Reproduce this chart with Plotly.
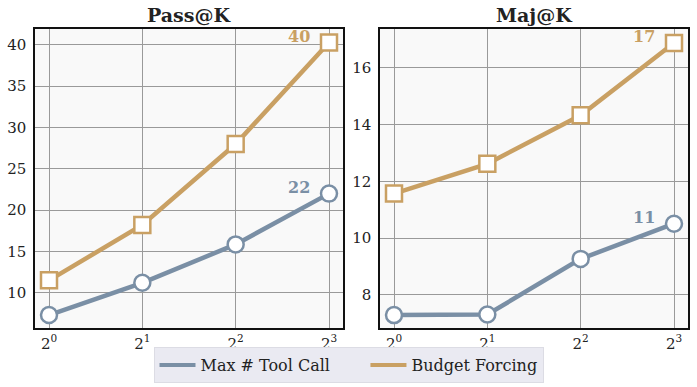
import plotly.graph_objects as go
from plotly.subplots import make_subplots

# ── data ──────────────────────────────────────────────────────────────
k_exp = [0, 1, 2, 3]
k_labels = ["2<sup>0</sup>", "2<sup>1</sup>", "2<sup>2</sup>", "2<sup>3</sup>"]

pass_tool = [7.3, 11.2, 15.85, 22.0]
pass_budget = [11.5, 18.2, 28.0, 40.3]
maj_tool = [7.29, 7.31, 9.27, 10.51]
maj_budget = [11.57, 12.62, 14.33, 16.88]

end_labels_pass = ["22", "40"]
end_labels_maj = ["11", "17"]

C_TOOL = "#7a8fa5"
C_BUDGET = "#c9a063"
FONT = "DejaVu Serif"

fig = make_subplots(rows=1, cols=2)


def add_series(y, color, symbol, size, col):
    fig.add_trace(go.Scatter(
        x=k_exp, y=y, mode="lines+markers",
        line=dict(color=color, width=4.5),
        marker=dict(symbol=symbol, size=size, color="white",
                    line=dict(color=color, width=2.5)),
        showlegend=False,
    ), row=1, col=col)


add_series(pass_tool, C_TOOL, "circle", 16, 1)
add_series(pass_budget, C_BUDGET, "square", 16, 1)
add_series(maj_tool, C_TOOL, "circle", 16, 2)
add_series(maj_budget, C_BUDGET, "square", 16, 2)

# legend-only entries (line without markers); trailing nbsp widens the gap
fig.add_trace(go.Scatter(x=[None], y=[None], mode="lines",
                         name="Max # Tool Call" + "\u00a0" * 6,
                         line=dict(color=C_TOOL, width=4)))
fig.add_trace(go.Scatter(x=[None], y=[None], mode="lines", name="Budget Forcing",
                         line=dict(color=C_BUDGET, width=4)))

# end-of-line value labels
for xr, yr, tool, budget, labels in [("x", "y", pass_tool, pass_budget, end_labels_pass),
                                     ("x2", "y2", maj_tool, maj_budget, end_labels_maj)]:
    for yv, txt, color in [(tool[-1], labels[0], C_TOOL), (budget[-1], labels[1], C_BUDGET)]:
        fig.add_annotation(x=k_exp[-1], y=yv, xref=xr, yref=yr, text=f"<b>{txt}</b>",
                           showarrow=False, xshift=-30, yshift=6,
                           font=dict(family=FONT, size=16, color=color))

# panel titles
for xc, title in [((35 + 343) / 2 / 697, "Pass@K"), ((380 + 688) / 2 / 697, "Maj@K")]:
    fig.add_annotation(x=xc, y=1 - 15 / 387, xref="paper", yref="paper",
                       xanchor="center", yanchor="middle",
                       text=f"<b>{title}</b>", showarrow=False,
                       font=dict(family=FONT, size=19, color="#222222"))

axis_common = dict(
    showline=True, mirror=True, linecolor="#111111", linewidth=1.5,
    showgrid=True, gridcolor="#9a9a9a", gridwidth=1, zeroline=False,
    ticks="outside", tickcolor="rgba(0,0,0,0)",
    tickfont=dict(family=FONT, size=15, color="#222222"),
)

fig.update_xaxes(**axis_common, ticklen=1, tickvals=k_exp, ticktext=k_labels,
                 range=[-0.15, 3.15])
fig.update_yaxes(**axis_common, ticklen=4)

fig.update_layout(
    width=697, height=387,
    margin=dict(l=0, r=0, t=0, b=0),
    paper_bgcolor="white",
    plot_bgcolor="#f9f9f9",
    font=dict(family=FONT, color="#222222"),
    xaxis=dict(domain=[35 / 697, 343 / 697]),
    xaxis2=dict(domain=[380 / 697, 688 / 697]),
    yaxis=dict(domain=[1 - 328 / 387, 1 - 29 / 387], range=[5.73, 41.93],
               tickvals=[10, 15, 20, 25, 30, 35, 40]),
    yaxis2=dict(domain=[1 - 328 / 387, 1 - 29 / 387], range=[6.835, 17.37],
                tickvals=[8, 10, 12, 14, 16]),
    legend=dict(orientation="h", x=0.5, xanchor="center", y=1 - 347 / 387, yanchor="top",
                bgcolor="#eaeaf2", bordercolor="#dcdce4", borderwidth=1,
                font=dict(family=FONT, size=16, color="#222222"),
                itemwidth=36, tracegroupgap=0),
)

fig.write_html("out.html", config={"displayModeBar": False},
               post_script="document.body.style.margin='0';")
